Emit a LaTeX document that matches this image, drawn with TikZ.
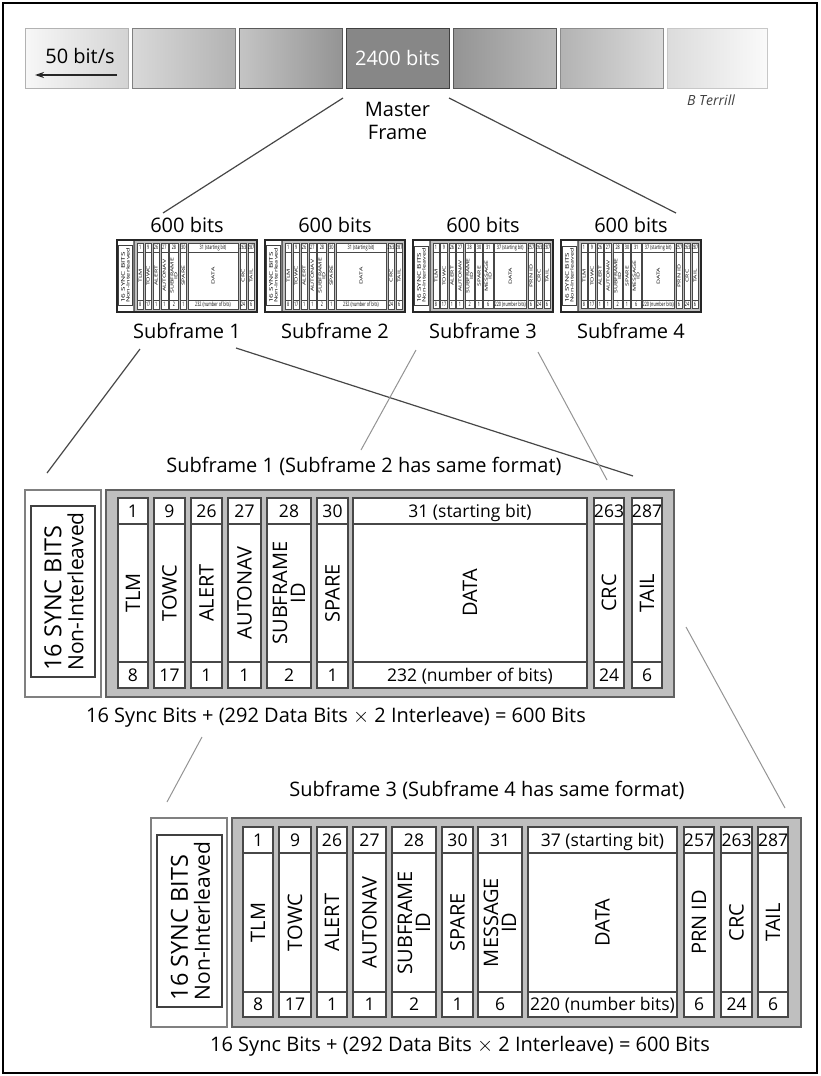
\documentclass[tikz,border=0pt]{standalone}
\usepackage{fontspec}
\setmainfont{Open Sans}
\usetikzlibrary{arrows.meta}
\newcommand\fsz[2]{\fontsize{#1}{#2}\selectfont}
\tikzset{
  graybox/.style={draw=black!62, fill=black!25, line width=1.3pt},
  colbox/.style={draw=black!72, fill=white, line width=1.1pt},
  cellline/.style={draw=black!72, line width=1.1pt},
  syncout/.style={draw=black!50, fill=white, line width=1.1pt},
  syncin/.style={draw=black!75, fill=white, line width=1.1pt},
  numtxt/.style={font=\fsz{17.5}{19}, inner sep=0pt, text height=12.5pt, text depth=0pt},
  labtxt/.style={font=\fsz{20}{18}, inner sep=0pt, align=center},
  synctxt/.style={font=\fsz{21}{22}, inner sep=0pt, align=left},
  plain/.style={font=\fsz{20}{23}, inner sep=0pt, align=center},
  link/.style={draw=black!72, line width=1.2pt},
  faint/.style={draw=black!42, line width=1pt},
  thumbframe/.style={draw=black!85, line width=1.6pt},
  thumb/.style={transform shape,
     colbox/.append style={line width=0.45pt},
     cellline/.append style={line width=0.45pt},
     graybox/.append style={line width=0.5pt},
     syncout/.append style={line width=0.45pt},
     syncin/.append style={line width=0.45pt}},
  seg/.style={line width=0.9pt},
}
\newcommand\synclabel{{\fsz{23.5}{22}16 SYNC BITS}\\Non-Interleaved}
% one column: id, x1, x2, top number, label, bottom number
\newcommand\sfcol[6]{%
  \path[colbox] (#2,\cya) rectangle (#3,\cyd);
  \path[cellline] (#2,\cyb) -- (#3,\cyb) (#2,\cyc) -- (#3,\cyc);
  \node[numtxt] (#1t) at ({(#2+#3)/2},{(\cya+\cyb)/2}) {#4};
  \node[labtxt,rotate=90] (#1l) at ({(#2+#3)/2},{(\cyb+\cyc)/2}) {#5};
  \node[numtxt] (#1b) at ({(#2+#3)/2},{(\cyc+\cyd)/2}) {#6};
}
\newcommand\sfone{%
  \def\cya{8}\def\cyb{34}\def\cyc{172}\def\cyd{198}%
  \path[syncout] (0,0) rectangle (76,207);
  \path[syncin] (6,16) rectangle (70,187);
  \node[synctxt,rotate=90] (sync) at (39,101.5) {\synclabel};
  \path[graybox] (81,0) rectangle (649,207);
  \sfcol{tlm}{93}{123}{1}{TLM}{8}
  \sfcol{towc}{129}{160}{9}{TOWC}{17}
  \sfcol{alert}{166}{197}{26}{ALERT}{1}
  \sfcol{auto}{203}{236}{27}{AUTONAV}{1}
  \sfcol{sfid}{242}{286}{28}{SUBFRAME\\ID}{2}
  \sfcol{spare}{292}{323}{30}{SPARE}{1}
  \sfcol{data}{328}{562}{31 (starting bit)}{DATA}{232 (number of bits)}
  \sfcol{crc}{569}{599}{263}{CRC}{24}
  \sfcol{tail}{607}{637}{287}{TAIL}{6}
}
\newcommand\sfthree{%
  \def\cya{9}\def\cyb{35}\def\cyc{174}\def\cyd{199}%
  \path[syncout] (0,0) rectangle (76,209);
  \path[syncin] (6,17) rectangle (71,189);
  \node[synctxt,rotate=90] (sync) at (39.5,103) {\synclabel};
  \path[graybox] (81,0) rectangle (650,209);
  \sfcol{tlm}{92}{122}{1}{TLM}{8}
  \sfcol{towc}{128}{160}{9}{TOWC}{17}
  \sfcol{alert}{166}{196}{26}{ALERT}{1}
  \sfcol{auto}{202}{235}{27}{AUTONAV}{1}
  \sfcol{sfid}{241}{285}{28}{SUBFRAME\\ID}{2}
  \sfcol{spare}{291}{322}{30}{SPARE}{1}
  \sfcol{msg}{327}{371}{31}{MESSAGE\\ID}{6}
  \sfcol{data}{377}{526}{37 (starting bit)}{DATA}{220 (number bits)}
  \sfcol{prn}{533}{563}{257}{PRN ID}{6}
  \sfcol{crc}{570}{601}{263}{CRC}{24}
  \sfcol{tail}{607}{637}{287}{TAIL}{6}
}
\begin{document}
\begin{tikzpicture}[x=1pt,y=-1pt]
\useasboundingbox (0,0) rectangle (821,1076);
\draw[line width=2.6pt] (3,3) rectangle (817,1073);

% ---- master frame bar
\shade[left color=black!3, right color=black!17] (25,28) rectangle (128,88);
\draw[seg, draw=black!30] (25,28) rectangle (128,88);
\shade[left color=black!15, right color=black!30] (132,28) rectangle (235,88);
\draw[seg, draw=black!50] (132,28) rectangle (235,88);
\shade[left color=black!23, right color=black!42] (239,28) rectangle (342,88);
\draw[seg, draw=black!65] (239,28) rectangle (342,88);
\fill[black!47] (346,28) rectangle (449,88);
\draw[seg, draw=black!75] (346,28) rectangle (449,88);
\shade[left color=black!42, right color=black!27] (453,28) rectangle (556,88);
\draw[seg, draw=black!65] (453,28) rectangle (556,88);
\shade[left color=black!30, right color=black!14] (560,28) rectangle (663,88);
\draw[seg, draw=black!45] (560,28) rectangle (663,88);
\shade[left color=black!14, right color=black!2] (667,28) rectangle (767,88);
\draw[seg, draw=black!22] (667,28) rectangle (767,88);

\node[plain, text=white] (bits2400) at (397.5,58) {2400 bits};
\node[plain] (rate) at (80,56) {50 bit/s};
\coordinate (arrS) at (117,75);
\coordinate (arrE) at (35,75);
\draw[-{Stealth[length=9pt,width=6pt]}, line width=1.3pt, black!85] (arrS) -- (arrE);
\node[plain] (master) at (397.5,121) {Master\\Frame};
\node[font=\fsz{14}{16}\itshape, text=black!75, inner sep=0pt] (author) at (711,100) {B Terrill};

% ---- lines from master frame
\coordinate (mfL) at (343,98);
\coordinate (mfR) at (449,98);
\coordinate (sfL) at (163,213);
\coordinate (sfR) at (676,213);
\draw[link] (mfL) -- (sfL);
\draw[link] (mfR) -- (sfR);

% ---- thumbnails
\node[plain] (b1) at (187,225) {600 bits};
\node[plain] (b2) at (335,225) {600 bits};
\node[plain] (b3) at (483,225) {600 bits};
\node[plain] (b4) at (631,225) {600 bits};

\begin{scope}[shift={(117,240)}, xscale=0.2157, yscale=0.348, thumb, name prefix=th1-]
  \sfone
\end{scope}
\draw[thumbframe] (117,240) rectangle (257,312);
\begin{scope}[shift={(265,240)}, xscale=0.2157, yscale=0.348, thumb, name prefix=th2-]
  \sfone
\end{scope}
\draw[thumbframe] (265,240) rectangle (405,312);
\begin{scope}[shift={(413,240)}, xscale=0.2154, yscale=0.3445, thumb, name prefix=th3-]
  \sfthree
\end{scope}
\draw[thumbframe] (413,240) rectangle (553,312);
\begin{scope}[shift={(561,240)}, xscale=0.2154, yscale=0.3445, thumb, name prefix=th4-]
  \sfthree
\end{scope}
\draw[thumbframe] (561,240) rectangle (701,312);

\node[plain] (s1) at (187,331) {Subframe 1};
\node[plain] (s2) at (335,331) {Subframe 2};
\node[plain] (s3) at (483,331) {Subframe 3};
\node[plain] (s4) at (631,331) {Subframe 4};

% ---- connectors to the detail views
\coordinate (a1) at (140,349);
\coordinate (a2) at (47,473);
\draw[link] (a1) -- (a2);
\coordinate (c1) at (236,348);
\coordinate (c2) at (633,476);
\draw[link] (c1) -- (c2);
\coordinate (d1) at (416,350);
\coordinate (d2) at (361,450);
\coordinate (d3) at (202,737);
\coordinate (d4) at (167,802);
\draw[faint] (d1) -- (d2);
\draw[faint] (d3) -- (d4);
\coordinate (e1) at (538,352);
\coordinate (e2) at (607,480);
\coordinate (e3) at (686,627);
\coordinate (e4) at (785,808);
\draw[faint] (e1) -- (e2);
\draw[faint] (e3) -- (e4);

% ---- subframe 1 detail
\node[plain] (title1) at (364,466) {Subframe 1 (Subframe 2 has same format)};
\begin{scope}[shift={(25,490)}, name prefix=big1-]
  \sfone
\end{scope}
\node[plain] (cap1) at (336,717) {16 Sync Bits + (292 Data Bits $\times$ 2 Interleave) = 600 Bits};

% ---- subframe 3 detail
\node[plain] (title3) at (487,790) {Subframe 3 (Subframe 4 has same format)};
\begin{scope}[shift={(151,818)}, name prefix=big3-]
  \sfthree
\end{scope}
\node[plain] (cap3) at (460,1046) {16 Sync Bits + (292 Data Bits $\times$ 2 Interleave) = 600 Bits};
\end{tikzpicture}
\end{document}
